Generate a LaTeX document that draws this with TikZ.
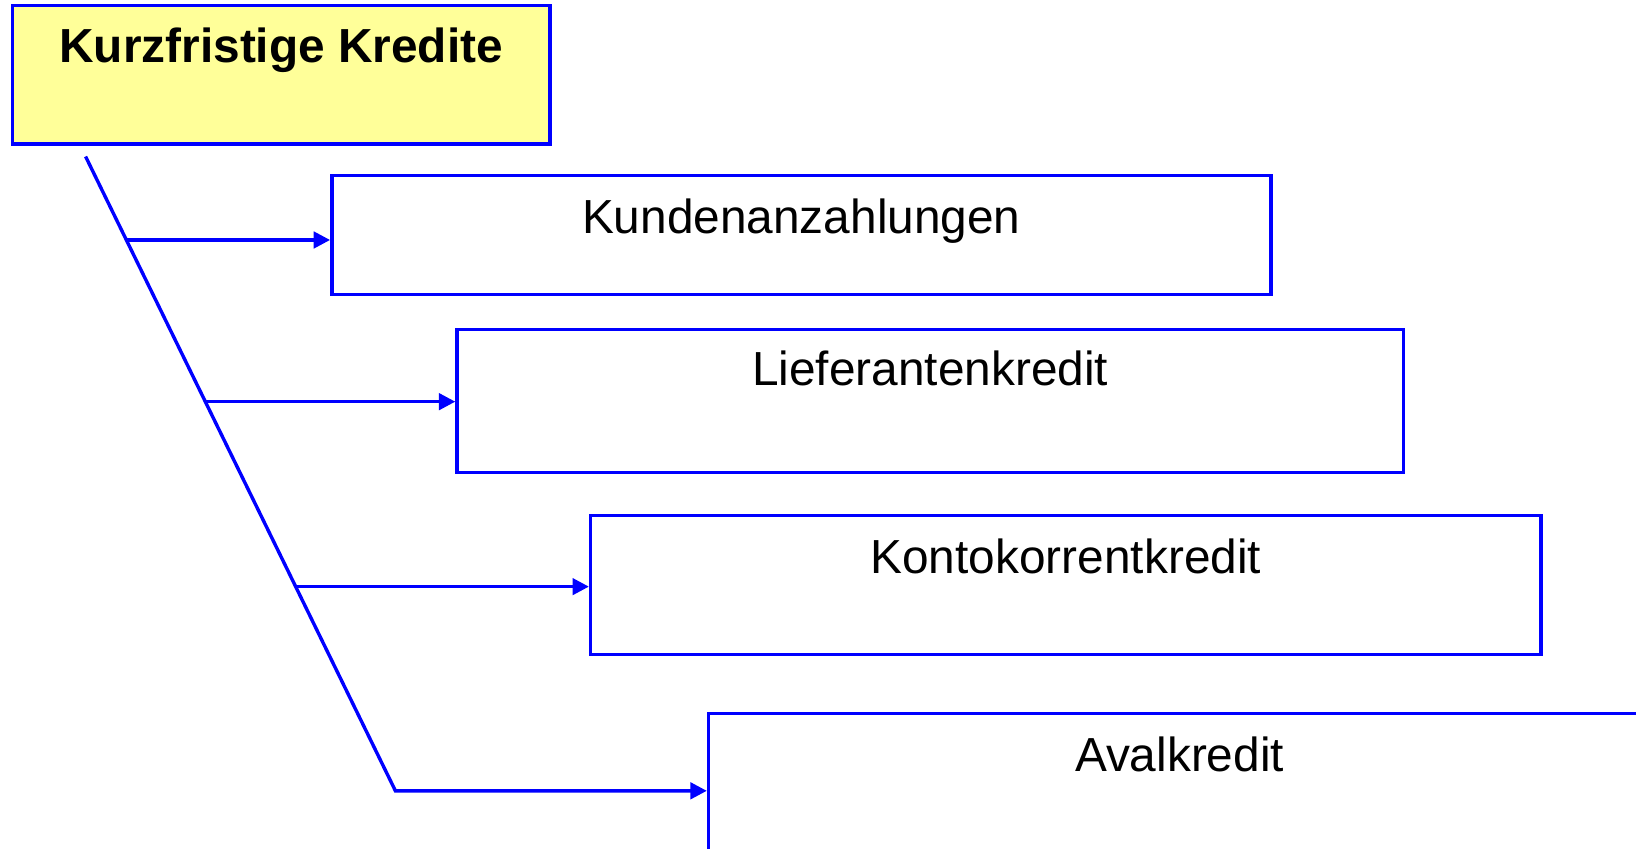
\documentclass[tikz,border=0pt]{standalone}
\usepackage{fontspec}
\setmainfont{Liberation Sans}
\usetikzlibrary{arrows.meta,calc,fit}

\definecolor{lineblue}{HTML}{0000FF}
\definecolor{headyellow}{HTML}{FFFF99}

\begin{document}
\begin{tikzpicture}[
    x=0.5pt, y=-0.5pt,
    box/.style={draw=lineblue, line width=1.7pt, inner sep=0pt, rectangle},
    headbox/.style={box, fill=headyellow},
    lbl/.style={anchor=base, inner sep=0pt, font=\fontsize{23.9}{28}\selectfont},
    headlbl/.style={lbl, font=\fontsize{23.9}{28}\selectfont\bfseries},
    link/.style={draw=lineblue, line width=1.7pt,
                 -{Triangle[length=8.2pt, width=8.2pt]}},
  ]
  % page area
  \clip (0,0) rectangle (1636,848);
  \fill[white] (0,0) rectangle (1636,848);

  % boxes
  \node[headbox, fit={(12.5,5.2) (550,144)}] (head) {};
  \node[box, fit={(331.8,175.3) (1270.9,294.2)}] (kunden) {};
  \node[box, fit={(457,329.7) (1403.4,472.5)}] (liefer) {};
  \node[box, fit={(590.6,515.4) (1541,654.2)}] (konto) {};
  \node[box, fit={(708.5,713.7) (1650.6,856)}] (aval) {};

  % box titles
  \node[headlbl] (headT)   at ([yshift=-29.7pt]head.north)   {Kurzfristige Kredite};
  \node[lbl]     (kundenT) at ([yshift=-29.7pt]kunden.north) {Kundenanzahlungen};
  \node[lbl]     (lieferT) at ([yshift=-28.5pt]liefer.north) {Lieferantenkredit};
  \node[lbl]     (kontoT)  at ([yshift=-29.7pt]konto.north)  {Kontokorrentkredit};
  \node[lbl]     (avalT)   at ([yshift=-29.7pt]aval.north)   {Avalkredit};

  % slanted trunk and its branch points
  \coordinate (t0) at (85.6,156.5);
  \coordinate (t1) at (395.4,790.8);
  \coordinate (b1) at ($(t0)!0.1316!(t1)$);
  \coordinate (b2) at ($(t0)!0.3865!(t1)$);
  \coordinate (b3) at ($(t0)!0.6781!(t1)$);

  \draw[link] (t0) -- (t1) -- (t1 -| aval.west);
  \draw[link] (b1) -- (b1 -| kunden.west);
  \draw[link] (b2) -- (b2 -| liefer.west);
  \draw[link] (b3) -- (b3 -| konto.west);
\end{tikzpicture}
\end{document}
